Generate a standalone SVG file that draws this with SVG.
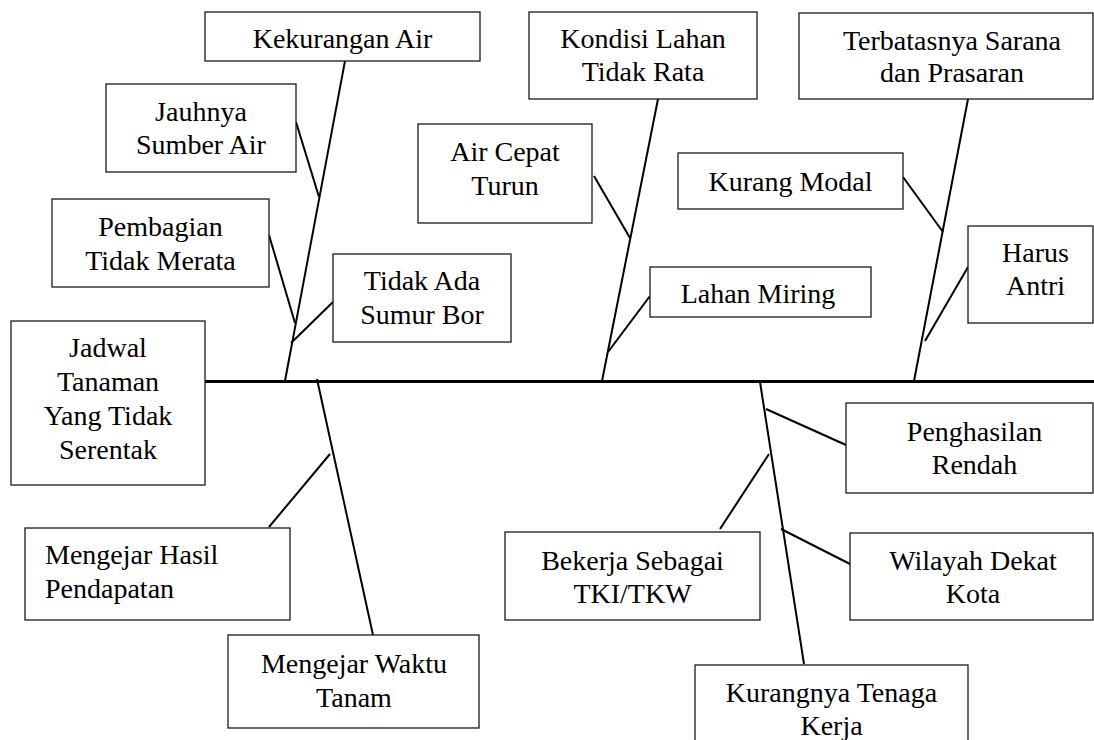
<svg xmlns="http://www.w3.org/2000/svg" width="1094" height="740" viewBox="0 0 1094 740">
<style>
rect{fill:#fff;stroke:#1a1a1a;stroke-width:1.3}
text{font-family:"Times New Roman",Tinos,"Liberation Serif","DejaVu Serif","Noto Serif",FreeSerif,Times,serif;font-size:28px;fill:#000;text-anchor:middle}
.bone{stroke:#000;stroke-width:2;fill:none}
.spine{stroke:#000;stroke-width:3;fill:none}
</style>
<rect x="0" y="0" width="1094" height="740" style="fill:#fff;stroke:none"/>
<g id="connectors">
<line class="spine" x1="205" y1="381.5" x2="1094" y2="381.5"/>
<line class="bone" x1="345" y1="61" x2="285" y2="381"/>
<line class="bone" x1="296" y1="122" x2="319" y2="197"/>
<line class="bone" x1="269" y1="235" x2="295" y2="323"/>
<line class="bone" x1="333" y1="302" x2="291" y2="343"/>
<line class="bone" x1="658" y1="99" x2="602" y2="381"/>
<line class="bone" x1="594" y1="176" x2="630" y2="238"/>
<line class="bone" x1="650" y1="296" x2="608" y2="352"/>
<line class="bone" x1="968" y1="99" x2="914" y2="381"/>
<line class="bone" x1="903" y1="177" x2="943" y2="232"/>
<line class="bone" x1="968" y1="267" x2="925" y2="341"/>
<line class="bone" x1="317" y1="379" x2="373" y2="635"/>
<line class="bone" x1="330" y1="454" x2="269" y2="527"/>
<line class="bone" x1="760" y1="382" x2="804" y2="664"/>
<line class="bone" x1="766" y1="409" x2="846" y2="445"/>
<line class="bone" x1="769" y1="454" x2="720" y2="529"/>
<line class="bone" x1="781" y1="529" x2="852" y2="565"/>
</g>
<g id="kekurangan-air"><rect x="205" y="12" width="275" height="49"/><text x="342.5" y="48">Kekurangan Air</text></g>
<g id="jauhnya-sumber-air"><rect x="106" y="84" width="190" height="88"/><text x="201" y="121">Jauhnya</text><text x="201" y="154">Sumber Air</text></g>
<g id="pembagian-tidak-merata"><rect x="52" y="199" width="217" height="88"/><text x="160.5" y="236">Pembagian</text><text x="160.5" y="270">Tidak Merata</text></g>
<g id="tidak-ada-sumur-bor"><rect x="333" y="254" width="178" height="88"/><text x="422" y="290">Tidak Ada</text><text x="422" y="324">Sumur Bor</text></g>
<g id="jadwal-tanaman"><rect x="11" y="321" width="194" height="164"/><text x="108" y="357">Jadwal</text><text x="108" y="391">Tanaman</text><text x="108" y="425">Yang Tidak</text><text x="108" y="459">Serentak</text></g>
<g id="kondisi-lahan"><rect x="529" y="12" width="228" height="87"/><text x="643" y="48">Kondisi Lahan</text><text x="643" y="81">Tidak Rata</text></g>
<g id="air-cepat-turun"><rect x="418" y="124" width="174" height="99"/><text x="505" y="161">Air Cepat</text><text x="505" y="195">Turun</text></g>
<g id="lahan-miring"><rect x="650" y="267" width="221" height="50"/><text x="758" y="303">Lahan Miring</text></g>
<g id="terbatasnya-sarana"><rect x="799" y="13" width="294" height="86"/><text x="952" y="50">Terbatasnya Sarana</text><text x="952" y="82">dan Prasaran</text></g>
<g id="kurang-modal"><rect x="678" y="153" width="225" height="56"/><text x="790.5" y="191">Kurang Modal</text></g>
<g id="harus-antri"><rect x="968" y="226" width="125" height="97"/><text x="1035.5" y="262">Harus</text><text x="1035.5" y="295">Antri</text></g>
<g id="mengejar-hasil"><rect x="25" y="528" width="265" height="92"/><text x="45" y="564" style="text-anchor:start">Mengejar Hasil</text><text x="45" y="598" style="text-anchor:start">Pendapatan</text></g>
<g id="mengejar-waktu"><rect x="228" y="635" width="251" height="93"/><text x="354" y="673">Mengejar Waktu</text><text x="354" y="707">Tanam</text></g>
<g id="penghasilan-rendah"><rect x="846" y="403" width="247" height="90"/><text x="974.5" y="441">Penghasilan</text><text x="974.5" y="474">Rendah</text></g>
<g id="bekerja-tki"><rect x="505" y="532" width="255" height="88"/><text x="632.5" y="570">Bekerja Sebagai</text><text x="632.5" y="603">TKI/TKW</text></g>
<g id="wilayah-dekat-kota"><rect x="850" y="533" width="243" height="87"/><text x="973" y="570">Wilayah Dekat</text><text x="973" y="603">Kota</text></g>
<g id="kurangnya-tenaga-kerja"><rect x="695" y="665" width="273" height="90"/><text x="831.5" y="702">Kurangnya Tenaga</text><text x="831.5" y="735">Kerja</text></g>
</svg>
